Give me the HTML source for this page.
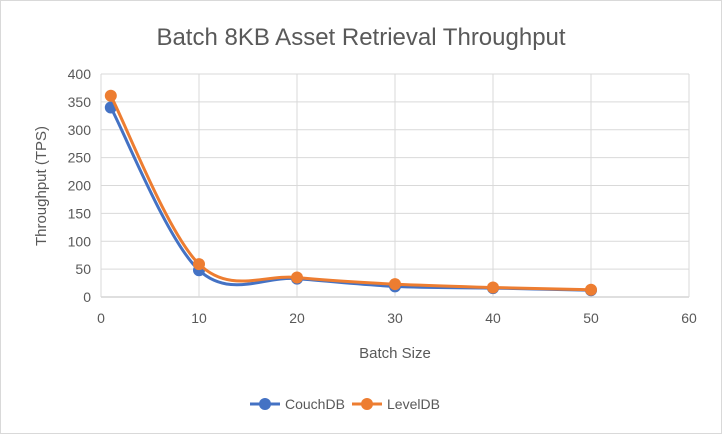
<!DOCTYPE html>
<html><head><meta charset="utf-8"><style>
body{margin:0;background:#fff;font-family:"Liberation Sans",sans-serif}
svg text{font-family:"Liberation Sans",sans-serif;fill:#595959}
</style></head><body>
<svg width="722" height="434">
<rect x="0.5" y="0.5" width="721" height="433" fill="#fff" stroke="#d9d9d9"/>
<text x="361" y="45" text-anchor="middle" font-size="24">Batch 8KB Asset Retrieval Throughput</text>
<g id="grid"></g><g id="series"></g>
<text x="395" y="358" text-anchor="middle" font-size="15">Batch Size</text>
<text transform="translate(46,186) rotate(-90)" text-anchor="middle" font-size="15">Throughput (TPS)</text>
<g>
<line x1="250" y1="404" x2="280" y2="404" stroke="#4472c4" stroke-width="3"/><circle cx="265" cy="404" r="6" fill="#4472c4"/>
<text x="285" y="409" font-size="14">CouchDB</text>
<line x1="352" y1="404" x2="382" y2="404" stroke="#ed7d31" stroke-width="3"/><circle cx="367" cy="404" r="6" fill="#ed7d31"/>
<text x="387" y="409" font-size="14">LevelDB</text>
</g>
</svg>
<script>
const xs=[1,10,20,30,40,50];
const couch=[340,48,33,19,16,12];
const level=[361,59,35,23,17,13];
const xTicks=[0,10,20,30,40,50,60];
const yTicks=[0,50,100,150,200,250,300,350,400];
const NS="http://www.w3.org/2000/svg";
const X=v=>101+v*(588/60), Y=v=>297-v*(223/400);
const grid=document.getElementById('grid'), ser=document.getElementById('series');
function mk(t,a,p){const e=document.createElementNS(NS,t);for(const k in a)e.setAttribute(k,a[k]);p.appendChild(e);return e;}
yTicks.forEach(v=>{
 const l=mk('line',{x1:X(0),x2:X(60),y1:Y(v),y2:Y(v),stroke:v?'#d9d9d9':'#bfbfbf','stroke-width':1},grid);
 
 
 const t=mk('text',{x:X(0)-10,y:Y(v)+5,'text-anchor':'end','font-size':14},grid);t.textContent=v;
 
 
});
xTicks.forEach(v=>{
 const l=mk('line',{x1:X(v),x2:X(v),y1:Y(0),y2:Y(400),stroke:'#d9d9d9','stroke-width':1},grid);
 
 
 const t=mk('text',{x:X(v),y:Y(0)+26,'text-anchor':'middle','font-size':14},grid);t.textContent=v;
 
 
});
function path(vals){
 const p=xs.map((x,i)=>[X(x),Y(vals[i])]);
 let d=`M${p[0][0]},${p[0][1]}`;
 for(let i=0;i<p.length-1;i++){
  const p0=p[i-1]||p[i],p1=p[i],p2=p[i+1],p3=p[i+2]||p2,t=6;
  d+=` C${p1[0]+(p2[0]-p0[0])/t},${p1[1]+(p2[1]-p0[1])/t} ${p2[0]-(p3[0]-p1[0])/t},${p2[1]-(p3[1]-p1[1])/t} ${p2[0]},${p2[1]}`;
 }
 return d;
}
[[couch,'#4472c4','couchdb'],[level,'#ed7d31','leveldb']].forEach(([vals,c,n])=>{
 const pa=mk('path',{d:path(vals),fill:'none',stroke:c,'stroke-width':3},ser);
 
 
 xs.forEach((x,i)=>{
  const ci=mk('circle',{cx:X(x),cy:Y(vals[i]),r:6,fill:c},ser);
  
  
 });
});
</script>
</body></html>
